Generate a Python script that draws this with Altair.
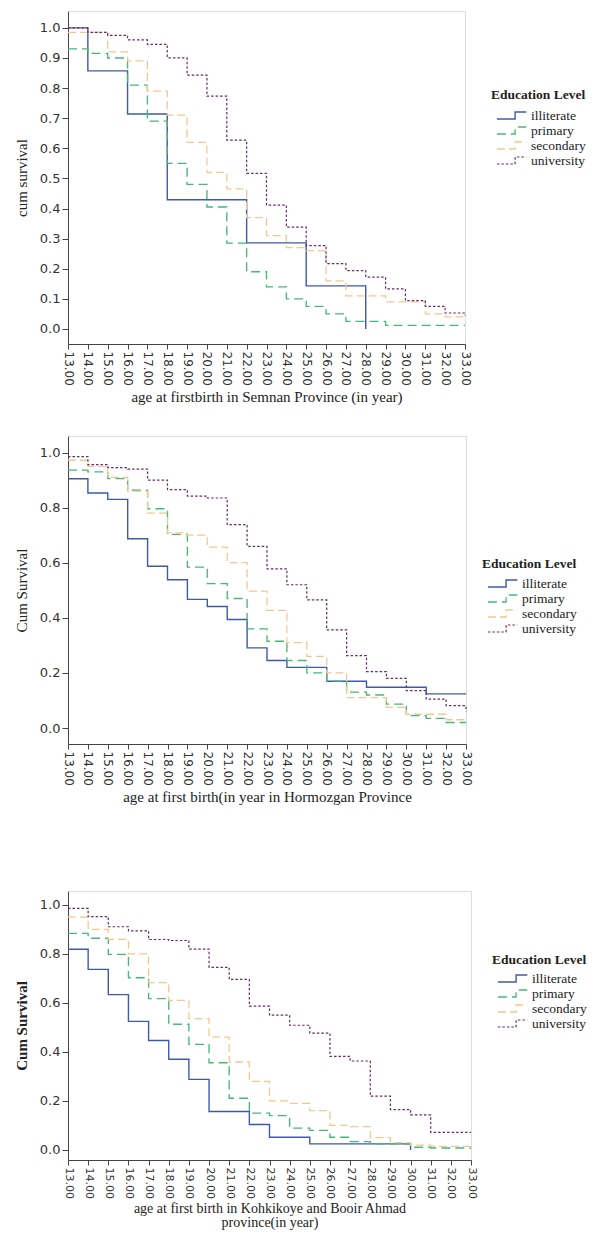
import altair as alt
import pandas as pd

ages = list(range(13, 34))
levels = ["illiterate", "primary", "secondary", "university"]
colors = ["#3E58AC", "#45B87A", "#F3C88E", "#6A2A6C"]
dashes = [[1, 0], [9, 5], [8, 4], [2.5, 2]]
widths = [1.4, 1.2, 1.2, 2.6]

# Panel 1: Semnan
p1_illiterate = [1.0, 0.857, 0.857, 0.714, 0.714, 0.429, 0.429, 0.429, 0.429, 0.286, 0.286,
                 0.286, 0.143, 0.143, 0.143, 0.0, None, None, None, None, None]
p1_primary = [0.93, 0.915, 0.90, 0.81, 0.69, 0.55, 0.48, 0.405, 0.285, 0.19, 0.14, 0.10,
              0.075, 0.05, 0.025, 0.025, 0.012, 0.012, 0.012, 0.012, 0.012]
p1_secondary = [0.985, 0.985, 0.92, 0.89, 0.79, 0.71, 0.62, 0.52, 0.465, 0.37, 0.31, 0.27,
                0.26, 0.16, 0.11, 0.11, 0.09, 0.09, 0.05, 0.04, 0.04]
p1_university = [1.0, 0.985, 0.975, 0.96, 0.945, 0.90, 0.843, 0.773, 0.627, 0.517, 0.411,
                 0.338, 0.277, 0.217, 0.194, 0.172, 0.133, 0.094, 0.075, 0.053, 0.045]

# Panel 2: Hormozgan
p2_illiterate = [0.905, 0.853, 0.83, 0.687, 0.587, 0.538, 0.467, 0.441, 0.394, 0.291, 0.245,
                 0.22, 0.22, 0.17, 0.17, 0.148, 0.148, 0.148, 0.124, 0.124, 0.124]
p2_primary = [0.936, 0.93, 0.905, 0.863, 0.796, 0.703, 0.584, 0.524, 0.47, 0.36, 0.315, 0.245,
              0.20, 0.17, 0.13, 0.12, 0.087, 0.045, 0.035, 0.02, 0.02]
p2_secondary = [0.972, 0.95, 0.91, 0.86, 0.78, 0.708, 0.70, 0.657, 0.60, 0.497, 0.427, 0.31,
                0.26, 0.20, 0.11, 0.11, 0.075, 0.05, 0.05, 0.03, 0.03]
p2_university = [0.985, 0.956, 0.945, 0.94, 0.90, 0.865, 0.842, 0.835, 0.738, 0.659, 0.578,
                 0.52, 0.465, 0.356, 0.263, 0.205, 0.18, 0.136, 0.105, 0.081, 0.06]

# Panel 3: Kohgiluyeh and Boyer-Ahmad
p3_illiterate = [0.819, 0.737, 0.634, 0.525, 0.447, 0.37, 0.288, 0.157, 0.157, 0.104, 0.052,
                 0.052, 0.025, 0.025, 0.025, 0.025, 0.025, 0.0, None, None, None]
p3_primary = [0.884, 0.864, 0.798, 0.703, 0.618, 0.513, 0.431, 0.356, 0.211, 0.15, 0.14, 0.089,
              0.08, 0.052, 0.034, 0.025, 0.025, 0.011, 0.008, 0.008, 0.008]
p3_secondary = [0.95, 0.90, 0.86, 0.80, 0.683, 0.611, 0.536, 0.461, 0.359, 0.28, 0.20, 0.19,
                0.161, 0.10, 0.095, 0.05, 0.03, 0.02, 0.015, 0.015, 0.015]
p3_university = [0.986, 0.952, 0.911, 0.894, 0.859, 0.855, 0.82, 0.745, 0.696, 0.587, 0.55,
                 0.509, 0.477, 0.382, 0.363, 0.22, 0.165, 0.143, 0.072, 0.072, 0.072]

titles_x = [
    "age at firstbirth in Semnan Province  (in year)",
    "age at first birth(in year in Hormozgan Province",
    ["age at first birth  in Kohkikoye and Booir Ahmad", "province(in year)"],
]
titles_y = ["cum survival", "Cum Survival", "Cum Survival"]


def make_df(series):
    rows = []
    for lvl, vals in zip(levels, series):
        for a, v in zip(ages, vals):
            if v is not None:
                rows.append({"age": a, "surv": v, "level": lvl})
    return pd.DataFrame(rows)


STEP = "M-0.3,0.5H2.3V-0.5H3.9"


def panel(series, yvals, ydom, ytitle, xtitle, w, h, lx, ly, ybold, legtitle,
          xlab=12, xtitle_pad=4, xtitle_size=15, row_pad=0, leg_tpad=6):
    df = make_df(series)
    leg = alt.Legend(
        title=legtitle, orient="none", legendX=lx, legendY=ly, padding=0,
        symbolType=STEP, symbolSize=196, symbolStrokeWidth=1.3,
        labelOffset=24, rowPadding=row_pad, titlePadding=leg_tpad,
        titleFont="Liberation Serif", titleFontSize=13.5, titleFontWeight="bold",
        titleColor="#222", labelFont="Liberation Serif", labelFontSize=13.5,
        labelColor="#222", symbolFillColor="transparent",
    )
    return alt.Chart(df).mark_line(interpolate="step-after", fill=None).encode(
        x=alt.X("age:Q", scale=alt.Scale(domain=[13, 33], nice=False, zero=False),
                axis=alt.Axis(values=ages, format=".2f", labelAngle=90, labelAlign="left",
                              labelBaseline="middle", title=xtitle, grid=False,
                              labelFont="DejaVu Sans", labelFontSize=xlab, labelColor="#333",
                              titleFont="Liberation Serif", titleFontSize=xtitle_size,
                              titleLineHeight=14,
                              titleFontWeight="normal", titleColor="#222",
                              titlePadding=xtitle_pad,
                              tickColor="#444", domainColor="#444", tickSize=5)),
        y=alt.Y("surv:Q", scale=alt.Scale(domain=ydom, nice=False, zero=False),
                axis=alt.Axis(values=yvals, format=".1f", title=ytitle, grid=False,
                              labelFont="DejaVu Sans", labelFontSize=13, labelColor="#333",
                              titleFont="Liberation Serif", titleFontSize=15,
                              titleFontWeight="bold" if ybold else "normal",
                              titleColor="#222", titlePadding=10,
                              tickColor="#444", domainColor="#444", tickSize=6)),
        color=alt.Color("level:N", scale=alt.Scale(domain=levels, range=colors), legend=leg),
        strokeDash=alt.StrokeDash("level:N", scale=alt.Scale(domain=levels, range=dashes), legend=leg),
        strokeWidth=alt.StrokeWidth("level:N", scale=alt.Scale(domain=levels, range=widths), legend=leg),
    ).properties(width=w, height=h)


yt1 = [round(0.1 * i, 1) for i in range(11)]
yt2 = [0.0, 0.2, 0.4, 0.6, 0.8, 1.0]

c1 = panel([p1_illiterate, p1_primary, p1_secondary, p1_university], yt1, [-0.05, 1.056],
           titles_y[0], titles_x[0], 397, 333, 423, 77, False, "Education Level")
c2 = panel([p2_illiterate, p2_primary, p2_secondary, p2_university], yt2, [-0.058, 1.06],
           titles_y[1], titles_x[1], 398, 308, 414, 121, False, "Education Level",
           row_pad=-2, leg_tpad=5)
c3 = panel([p3_illiterate, p3_primary, p3_secondary, p3_university], yt2, [-0.041, 1.057],
           titles_y[2], titles_x[2], 403, 269, 424, 62, True, "Education Level",
           xlab=11, xtitle_pad=3, xtitle_size=14, row_pad=-1, leg_tpad=4)

inner = alt.vconcat(c1, c2, spacing=30).resolve_scale(
    color="independent", strokeDash="independent", strokeWidth="independent")
chart = alt.vconcat(inner, c3, spacing=85).resolve_scale(
    color="independent", strokeDash="independent", strokeWidth="independent"
).properties(
    padding={"left": 5, "top": 2, "right": 0, "bottom": 0}
).configure_view(
    fill="#EFEFEF", stroke="#555555", strokeWidth=1.5
).configure(background="white")

chart.save("out.html", embed_options={"renderer": "svg", "actions": False})
